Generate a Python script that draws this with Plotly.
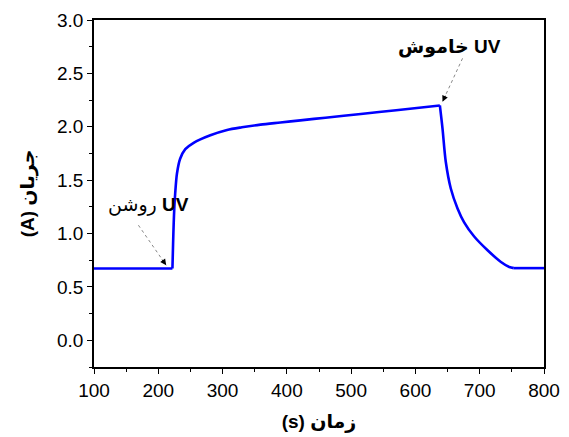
import plotly.graph_objects as go

# Photocurrent response: UV switched on at ~222 s and off at ~638 s
time_s = [100, 160, 222,
          223, 224, 225, 226.3, 229, 234, 242, 255, 281, 307, 330, 359, 390,
          421, 460, 515, 570, 638,
          642.1, 647.2, 655.0, 665.5, 675.8, 691.4, 712.2, 733, 746, 753,
          780, 800]
current_a = [0.672, 0.672, 0.672,
             0.90, 1.10, 1.25, 1.375, 1.56, 1.70, 1.79, 1.85, 1.92, 1.97, 1.995, 2.02, 2.04,
             2.06, 2.085, 2.12, 2.155, 2.20,
             1.985, 1.672, 1.422, 1.235, 1.105, 0.972, 0.843, 0.734, 0.687, 0.676,
             0.676, 0.676]

x_ticks = [100, 200, 300, 400, 500, 600, 700, 800]
y_ticks = [0.0, 0.5, 1.0, 1.5, 2.0, 2.5, 3.0]

# index of the switch-on point, the switch-off peak and the return to baseline
i_on = time_s.index(222)
i_off = time_s.index(638)
i_base = time_s.index(753)

FONT = "Arial, 'Liberation Sans', 'DejaVu Sans', sans-serif"
LINE = dict(color="#0000FF", width=2.6)

fig = go.Figure()
segments = [
    (0, i_on, "linear"),
    (i_on, i_off, "spline"),
    (i_off, i_base, "spline"),
    (i_base, len(time_s) - 1, "linear"),
]
for a, b, shape in segments:
    fig.add_trace(go.Scatter(
        x=time_s[a:b + 1], y=current_a[a:b + 1], mode="lines",
        line=dict(**LINE, shape=shape, smoothing=0.8 if shape == "spline" else None),
        showlegend=False, hoverinfo="skip",
    ))

# dotted leader lines for the two callouts
for (x0, y0, x1, y1) in [(169.1, 1.078, 212.3, 0.703), (673.3, 2.641, 642.1, 2.234)]:
    fig.add_shape(type="line", xref="x", yref="y", x0=x0, y0=y0, x1=x1, y1=y1,
                  line=dict(color="#888888", width=1, dash="dot"))

# arrow heads at the switching points
fig.add_annotation(x=212.3, y=0.703, ax=-5, ay=-7, xref="x", yref="y",
                   showarrow=True, arrowhead=2, arrowsize=1.2, arrowwidth=1,
                   arrowcolor="black", text="")
fig.add_annotation(x=642.1, y=2.234, ax=3.5, ay=-7.5, xref="x", yref="y",
                   showarrow=True, arrowhead=2, arrowsize=1.2, arrowwidth=1,
                   arrowcolor="black", text="")

fig.add_annotation(x=184.2, y=1.266, xref="x", yref="y", showarrow=False,
                   text="روشن <b>UV</b>", font=dict(family=FONT, size=19, color="black"))
fig.add_annotation(x=653, y=2.75, xref="x", yref="y", showarrow=False,
                   text="<b>خاموش UV</b>", font=dict(family=FONT, size=19, color="black"))

axis_common = dict(
    showline=True, linecolor="black", linewidth=1.6, mirror=True,
    ticks="outside", ticklen=5, tickwidth=1.4, tickcolor="black",
    showgrid=False, zeroline=False, automargin=False,
    tickfont=dict(family=FONT, size=19, color="black"),
)

fig.update_xaxes(
    range=[100, 800], tickvals=x_ticks, ticktext=[str(v) for v in x_ticks],
    minor=dict(dtick=50, ticks="outside", ticklen=3, tickwidth=1.2, tickcolor="black"),
    title=dict(text="<b>(s) زمان</b>", font=dict(family=FONT, size=19, color="black"),
               standoff=15),
    **axis_common,
)
fig.update_yaxes(
    range=[-0.25, 3.0], tickvals=y_ticks, ticktext=[f"{v:.1f}" for v in y_ticks],
    minor=dict(dtick=0.25, ticks="outside", ticklen=3, tickwidth=1.2, tickcolor="black"),
    title=dict(text="<b>(A) جریان</b>", font=dict(family=FONT, size=19, color="black"),
               standoff=17),
    **axis_common,
)

fig.update_layout(
    width=569, height=437,
    margin=dict(l=94, r=25, t=20, b=70, pad=0),
    plot_bgcolor="white", paper_bgcolor="white",
)

fig.write_html("out.html")
